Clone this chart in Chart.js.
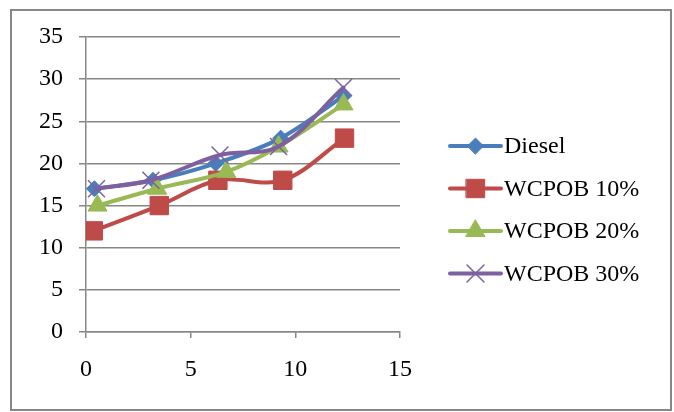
<!DOCTYPE html>
<html>
<head>
<meta charset="utf-8">
<script src="https://cdn.jsdelivr.net/npm/chart.js@4/dist/chart.umd.min.js"></script>
<style>
  html, body { margin: 0; padding: 0; background: #ffffff; }
  #wrap { width: 674px; height: 412px; }
</style>
</head>
<body>
<div id="wrap"><canvas id="c" width="674" height="412"></canvas></div>
<script>
// Series values (x = load, y = measured value)
const seriesNames = ['Diesel', 'WCPOB 10%', 'WCPOB 20%', 'WCPOB 30%'];
const xDiesel = [0.4, 3.2, 6.2, 9.3, 12.3];
const yDiesel = [17, 18, 20, 23, 28];
const xWcpob10 = [0.35, 3.5, 6.3, 9.4, 12.35];
const yWcpob10 = [12, 15, 18, 18, 23];
const xWcpob20 = [0.55, 3.4, 6.7, 9.2, 12.3];
const yWcpob20 = [15, 17, 19, 22, 27];
const xWcpob30 = [0.5, 3.1, 6.4, 9.2, 12.3];
const yWcpob30 = [17, 18, 21, 22, 29];
const xTicks = [0, 5, 10, 15];
const yTicks = [0, 5, 10, 15, 20, 25, 30, 35];

const FONT = "'Liberation Serif', 'Times New Roman', serif";
const GRID = '#878787';

function points(xs, ys) {
  return xs.map((x, i) => ({ x: x, y: ys[i] }));
}

const styles = [
  { color: '#4A7EBB', pointStyle: 'rectRot', radius: 8, pbw: 1 },
  { color: '#BE4B48', pointStyle: 'rect', radius: 13, pbw: 1 },
  { color: '#98B954', pointStyle: 'triangle', radius: 11, pbw: 1 },
  { color: '#7D60A0', pointStyle: 'crossRot', radius: 12, pbw: 1.5 }
];

const seriesData = [
  points(xDiesel, yDiesel),
  points(xWcpob10, yWcpob10),
  points(xWcpob20, yWcpob20),
  points(xWcpob30, yWcpob30)
];

const datasets = seriesNames.map((name, i) => ({
  label: name,
  data: seriesData[i],
  showLine: true,
  tension: 0.35,
  borderColor: styles[i].color,
  backgroundColor: styles[i].color,
  borderWidth: 4,
  borderCapStyle: 'round',
  borderJoinStyle: 'round',
  pointStyle: styles[i].pointStyle,
  pointRadius: styles[i].radius,
  pointHoverRadius: styles[i].radius,
  pointBorderWidth: styles[i].pbw,
  pointBackgroundColor: styles[i].color,
  pointBorderColor: styles[i].color,
  order: seriesNames.length - i
}));

// Outer frame around the whole figure
const framePlugin = {
  id: 'frame',
  beforeDraw(chart) {
    const ctx = chart.ctx;
    ctx.save();
    ctx.fillStyle = '#ffffff';
    ctx.fillRect(0, 0, chart.width, chart.height);
    ctx.strokeStyle = GRID;
    ctx.lineWidth = 2;
    ctx.strokeRect(11, 10, 660, 400);
    ctx.restore();
  }
};

// Legend on the right: line segment with marker, then the series name
const sideLegend = {
  id: 'sideLegend',
  afterDraw(chart) {
    const ctx = chart.ctx;
    const x0 = 450, x1 = 501, top = 146, step = 42.5;
    ctx.save();
    chart.data.datasets.forEach((ds, i) => {
      const y = top + i * step;
      ctx.strokeStyle = ds.borderColor;
      ctx.lineWidth = 4;
      ctx.lineCap = 'round';
      ctx.beginPath();
      ctx.moveTo(x0, y);
      ctx.lineTo(x1, y);
      ctx.stroke();
      ctx.fillStyle = ds.pointBackgroundColor;
      ctx.strokeStyle = ds.pointBorderColor;
      ctx.lineWidth = ds.pointBorderWidth;
      Chart.helpers.drawPoint(ctx, {
        pointStyle: ds.pointStyle,
        radius: ds.pointRadius,
        rotation: 0,
        borderWidth: ds.pointBorderWidth
      }, (x0 + x1) / 2, y);
      ctx.fillStyle = '#000000';
      ctx.font = '24px ' + FONT;
      ctx.textAlign = 'left';
      ctx.textBaseline = 'middle';
      ctx.fillText(ds.label, 504, y + 1);
    });
    ctx.restore();
  }
};

new Chart(document.getElementById('c'), {
  type: 'scatter',
  data: { datasets: datasets },
  plugins: [framePlugin, sideLegend],
  options: {
    responsive: false,
    animation: false,
    events: [],
    layout: { padding: { left: 0, top: 37, right: 274, bottom: 0 } },
    plugins: {
      legend: { display: false },
      tooltip: { enabled: false }
    },
    scales: {
      x: {
        type: 'linear',
        min: 0,
        max: 15,
        afterBuildTicks(scale) { scale.ticks = xTicks.map(v => ({ value: v })); },
        afterFit(scale) { scale.height = 80; },
        grid: {
          drawOnChartArea: false,
          drawTicks: true,
          tickLength: 6,
          color: GRID,
          lineWidth: 1.5
        },
        border: { display: true, color: GRID, width: 1.5 },
        ticks: {
          color: '#000000',
          padding: 17,
          maxRotation: 0,
          font: { family: FONT, size: 24 }
        }
      },
      y: {
        type: 'linear',
        min: 0,
        max: 35,
        afterBuildTicks(scale) { scale.ticks = yTicks.map(v => ({ value: v })); },
        afterFit(scale) { scale.width = 86; },
        grid: {
          drawOnChartArea: true,
          drawTicks: true,
          tickLength: 7,
          color: GRID,
          lineWidth: 1.5
        },
        border: { display: true, color: GRID, width: 1.5 },
        ticks: {
          color: '#000000',
          padding: 16,
          font: { family: FONT, size: 24 }
        }
      }
    }
  }
});
</script>
</body>
</html>
